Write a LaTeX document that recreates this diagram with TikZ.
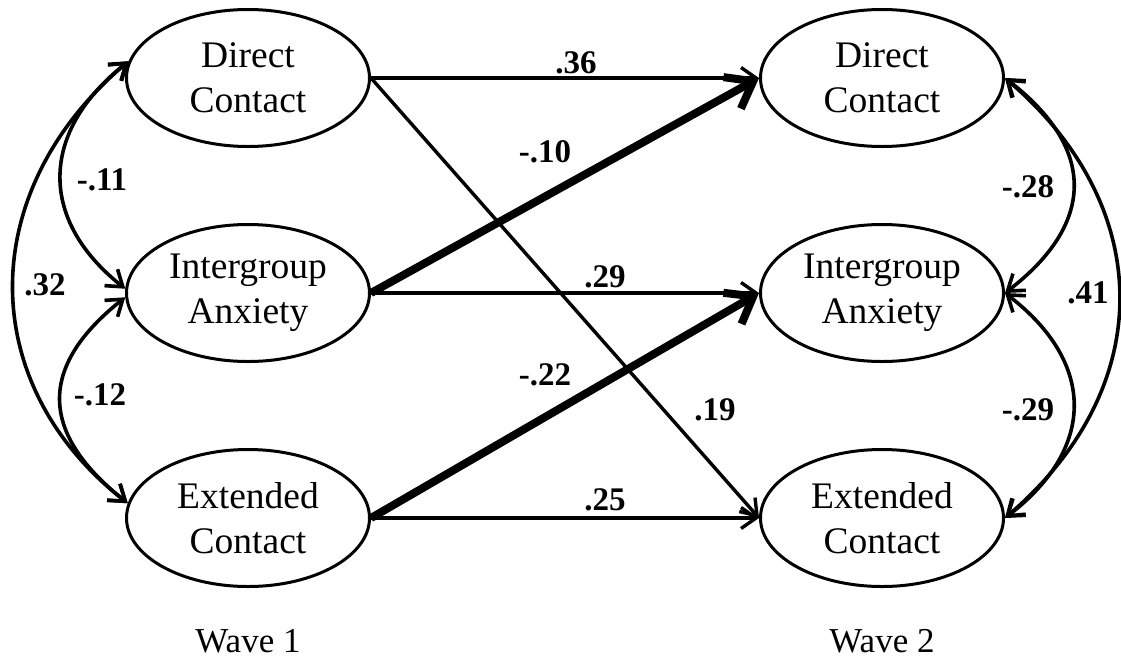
\documentclass[tikz,border=0pt]{standalone}
\usepackage{fontspec}
\setmainfont{Liberation Serif}
\usetikzlibrary{arrows.meta,shapes.geometric}

\begin{document}
\begin{tikzpicture}[x=1pt,y=-1pt,
  latent/.style={draw, ellipse, line width=3pt, minimum width=243pt,
    minimum height=137pt, inner sep=0pt, align=center,
    font=\fontsize{37.5}{45}\selectfont},
  coef/.style={font=\fontsize{33}{36}\selectfont\bfseries, inner sep=0pt},
  wave/.style={font=\fontsize{35}{40}\selectfont, inner sep=0pt},
  barb/.tip={Straight Barb[length=15pt,width=21pt]},
  bigbarb/.tip={Straight Barb[length=24pt,width=36pt]},
  regpath/.style={line width=3.4pt, -barb},
  strongpath/.style={line width=8pt, -bigbarb},
  covpath/.style={line width=3.6pt, barb-barb},
]
\useasboundingbox (0,0) rectangle (1121,659);
\fill[white] (0,0) rectangle (1121,659);

% Wave 1 constructs
\node[latent] (ldc) at (248,78)  {Direct\\Contact};
\node[latent] (lia) at (248,293) {Intergroup\\Anxiety};
\node[latent] (lec) at (248,518) {Extended\\Contact};
% Wave 2 constructs
\node[latent] (rdc) at (882,78)  {Direct\\Contact};
\node[latent] (ria) at (882,293) {Intergroup\\Anxiety};
\node[latent] (rec) at (882,518) {Extended\\Contact};

\node[wave] (w1) at (248,641) {Wave 1};
\node[wave] (w2) at (882,641) {Wave 2};

% cross-lagged and autoregressive paths
\draw[regpath] (ldc.east) -- (rdc.west);
\draw[regpath] (ldc.east) -- (rec.west);
\draw[regpath] (lia.east) -- (ria.west);
\draw[regpath] (lec.east) -- (rec.west);
\draw[strongpath] (lia.east) -- (rdc.west);
\draw[strongpath] (lec.east) -- (ria.west);

\node[coef] (c36) at (576,63)  {.36};
\node[coef] (c10) at (545,152) {-.10};
\node[coef] (c29) at (605,277) {.29};
\node[coef] (c22) at (545,375) {-.22};
\node[coef] (c19) at (715,410) {.19};
\node[coef] (c25) at (605,500) {.25};

% Wave 1 correlations
\draw[covpath] (ldc.172) .. controls +(-88,70) and +(-88,-70) .. (lia.178);
\draw[covpath] (lia.182) .. controls +(-88,70) and +(-88,-70) .. (lec.173);
\draw[covpath] (ldc.172) .. controls +(-153,130) and +(-153,-120) .. (lec.173);
\node[coef] (c11) at (102,180) {-.11};
\node[coef] (c12) at (100,395) {-.12};
\node[coef] (c32) at (45,285)  {.32};

% Wave 2 correlations
\draw[covpath] (rdc.east) .. controls +(91,70) and +(91,-70) .. (ria.east);
\draw[covpath] (ria.east) .. controls +(91,70) and +(91,-70) .. (rec.east);
\draw[covpath] (rdc.east) .. controls +(152,130) and +(152,-130) .. (rec.east);
\node[coef] (c28) at (1028,187) {-.28};
\node[coef] (c29b) at (1028,410) {-.29};
\node[coef] (c41) at (1088,293) {.41};
\end{tikzpicture}
\end{document}
